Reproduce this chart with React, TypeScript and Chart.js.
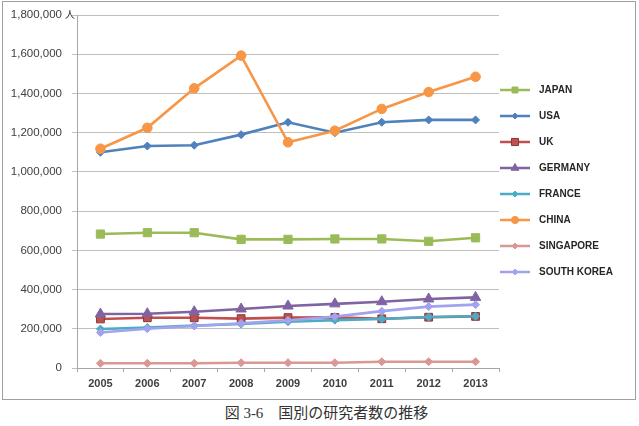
import React, { useEffect, useRef } from 'react';
import { Chart, registerables } from 'chart.js';

Chart.register(...registerables);

const years = ['2005', '2006', '2007', '2008', '2009', '2010', '2011', '2012', '2013'];
const seriesNames = ['JAPAN', 'USA', 'UK', 'GERMANY', 'FRANCE', 'CHINA', 'SINGAPORE', 'SOUTH KOREA'];

const japan = [683000, 690000, 690000, 656000, 656000, 658000, 658000, 646000, 664000];
const usa = [1100000, 1132000, 1136000, 1190000, 1253000, 1200000, 1253000, 1265000, 1265000];
const uk = [250000, 256000, 256000, 252000, 257000, 258000, 251000, 259000, 263000];
const germany = [275000, 277000, 287000, 301000, 316000, 327000, 338000, 352000, 360000];
const france = [199000, 206000, 216000, 224000, 236000, 244000, 250000, 260000, 264000];
const china = [1118000, 1225000, 1426000, 1593000, 1151000, 1210000, 1321000, 1407000, 1485000];
const singapore = [24000, 24000, 24000, 27000, 27000, 27000, 32000, 32000, 32000];
const southKorea = [181000, 200000, 214000, 228000, 243000, 262000, 290000, 313000, 323000];

const seriesValues = [japan, usa, uk, germany, france, china, singapore, southKorea];

const lineColors = ['#9BBB59', '#4F81BD', '#C0504D', '#8064A2', '#4BACC6', '#F79646', '#D99795', '#A2A2EE'];
const markerBorders = ['#9BBB59', '#4F81BD', '#8C3836', '#8064A2', '#4BACC6', '#F79646', '#D99795', '#A2A2EE'];
const pointStyles = ['rect', 'rectRot', 'rect', 'triangle', 'rectRot', 'circle', 'rectRot', 'rectRot'];
const pointRadii = [5.8, 4, 5.5, 6, 4, 4.8, 4, 4];
const legendRadii = [4.2, 3, 5, 4.5, 3, 3.6, 3, 3];

const yMax = 1800000;
const yStep = 200000;
const unitLabel = '人';
const caption = '図 3-6\u3000国別の研究者数の推移';

function drawMarker(ctx: CanvasRenderingContext2D, style: string, x: number, y: number, r: number, fill: string, stroke: string) {
  ctx.save();
  ctx.fillStyle = fill;
  ctx.strokeStyle = stroke;
  ctx.lineWidth = 1;
  ctx.beginPath();
  if (style === 'rect') {
    const s = r * Math.SQRT2;
    ctx.rect(x - s / 2, y - s / 2, s, s);
  } else if (style === 'rectRot') {
    ctx.moveTo(x - r, y);
    ctx.lineTo(x, y - r);
    ctx.lineTo(x + r, y);
    ctx.lineTo(x, y + r);
    ctx.closePath();
  } else if (style === 'triangle') {
    let rad = 0;
    ctx.moveTo(x + Math.sin(rad) * r, y - Math.cos(rad) * r);
    rad += (2 * Math.PI) / 3;
    ctx.lineTo(x + Math.sin(rad) * r, y - Math.cos(rad) * r);
    rad += (2 * Math.PI) / 3;
    ctx.lineTo(x + Math.sin(rad) * r, y - Math.cos(rad) * r);
    ctx.closePath();
  } else {
    ctx.arc(x, y, r, 0, Math.PI * 2);
  }
  ctx.fill();
  ctx.stroke();
  ctx.restore();
}

const legendPlugin = {
  id: 'lineLegend',
  afterDraw(chart: any) {
    const ctx: CanvasRenderingContext2D = chart.ctx;
    const area = chart.chartArea;
    const x0 = area.right + 1;
    const lineLen = 30;
    const yStart = area.top + 75;
    const spacing = 26;
    ctx.save();
    chart.data.datasets.forEach((ds: any, i: number) => {
      const y = yStart + i * spacing;
      ctx.strokeStyle = lineColors[i];
      ctx.lineWidth = 2.5;
      ctx.beginPath();
      ctx.moveTo(x0, y);
      ctx.lineTo(x0 + lineLen, y);
      ctx.stroke();
      drawMarker(ctx, pointStyles[i], x0 + lineLen / 2, y, legendRadii[i], lineColors[i], markerBorders[i]);
      ctx.fillStyle = '#262626';
      ctx.font = 'bold 10px "Liberation Sans", Arial, sans-serif';
      ctx.textAlign = 'left';
      ctx.textBaseline = 'middle';
      ctx.fillText(ds.label, x0 + lineLen + 9, y + 0.5);
    });
    // unit label
    ctx.fillStyle = '#262626';
    ctx.font = '10px "Noto Sans CJK JP", sans-serif';
    ctx.textAlign = 'left';
    ctx.textBaseline = 'middle';
    ctx.fillText(unitLabel, area.left - 12, area.top - 1);
    ctx.restore();
  },
};

export default function App() {
  const canvasRef = useRef<HTMLCanvasElement | null>(null);

  useEffect(() => {
    if (!canvasRef.current) return;
    const n = seriesNames.length;
    const chart = new Chart(canvasRef.current, {
      type: 'line',
      data: {
        labels: years,
        datasets: seriesNames.map((name, i) => ({
          label: name,
          data: seriesValues[i],
          borderColor: lineColors[i],
          backgroundColor: lineColors[i],
          pointBackgroundColor: lineColors[i],
          pointBorderColor: markerBorders[i],
          pointBorderWidth: 1,
          pointStyle: pointStyles[i] as any,
          pointRadius: pointRadii[i],
          borderWidth: 2.6,
          tension: 0,
          fill: false,
          order: n - i,
        })),
      },
      plugins: [legendPlugin],
      options: {
        animation: false,
        responsive: false,
        maintainAspectRatio: false,
        devicePixelRatio: 1,
        layout: { padding: { left: 0, right: 136, top: 13, bottom: 6 } },
        plugins: {
          legend: { display: false },
          tooltip: { enabled: false },
          title: { display: false },
        },
        scales: {
          x: {
            type: 'category',
            offset: true,
            grid: {
              offset: true,
              drawOnChartArea: false,
              drawTicks: true,
              tickLength: 4,
              color: '#A6A6A6',
            },
            border: { color: '#A6A6A6', width: 1 },
            ticks: {
              padding: 5,
              color: '#404040',
              font: { family: '"Liberation Sans", Arial, sans-serif', size: 11, weight: 'bold' },
              maxRotation: 0,
            },
            afterFit: (scale: any) => {
              scale.height = 25;
            },
          },
          y: {
            min: 0,
            max: yMax,
            ticks: {
              stepSize: yStep,
              padding: 10,
              color: '#404040',
              font: { family: '"Liberation Sans", Arial, sans-serif', size: 11.5 },
              callback: (v: any) => Number(v).toLocaleString('en-US'),
            },
            grid: {
              color: '#BFBFBF',
              lineWidth: 1,
              tickLength: 5,
              drawTicks: true,
            },
            border: { color: '#A6A6A6', width: 1 },
            afterFit: (scale: any) => {
              scale.width = 74;
              scale.paddingTop = 7;
              scale.paddingBottom = 7;
            },
          },
        },
      },
    });
    return () => chart.destroy();
  }, []);

  return (
    <div style={{ position: 'absolute', left: 0, top: 0, width: 639, height: 426, background: '#fff' }}>
      <div
        style={{
          position: 'absolute',
          left: 2,
          top: 1,
          width: 632,
          height: 397,
          border: '1px solid #A0A0A0',
        }}
      >
        <canvas ref={canvasRef} width={632} height={397} style={{ display: 'block', width: 632, height: 397 }} />
      </div>
      <div
        style={{
          position: 'absolute',
          left: 7,
          top: 403,
          width: 639,
          textAlign: 'center',
          fontFamily: '"Liberation Serif", "Noto Sans CJK JP", serif',
          fontSize: 15,
          lineHeight: '20px',
          color: '#333',
          whiteSpace: 'pre',
        }}
      >
        {caption}
      </div>
    </div>
  );
}
